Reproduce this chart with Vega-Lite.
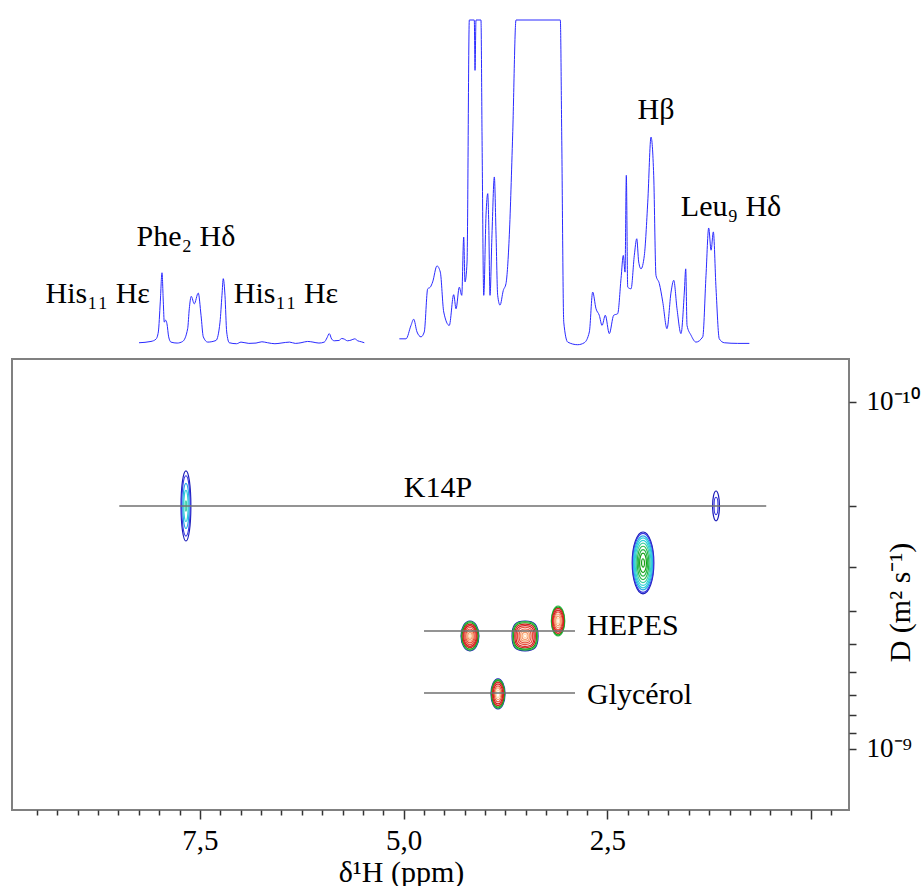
{
  "$schema": "https://vega.github.io/schema/vega-lite/v6.json",
  "padding": {"left": 11, "top": 18, "right": 0, "bottom": 0},
  "spacing": 11,
  "background": "white",
  "config": {"view": {"stroke": "#808080", "strokeWidth": 2}, "font": "Liberation Serif"},
  "datasets": {
    "spectrum": [
      {"seg":1,"ppm":8.248,"v":1.3},{"seg":1,"ppm":8.101,"v":1.7},{"seg":1,"ppm":8.040,"v":2.4},{"seg":1,"ppm":8.011,"v":4.6},{"seg":1,"ppm":7.987,"v":13.8},{"seg":1,"ppm":7.966,"v":22.7},{"seg":1,"ppm":7.950,"v":13.8},{"seg":1,"ppm":7.938,"v":7.6},{"seg":1,"ppm":7.921,"v":8.2},{"seg":1,"ppm":7.905,"v":7.1},{"seg":1,"ppm":7.884,"v":3.1},{"seg":1,"ppm":7.856,"v":1.5},{"seg":1,"ppm":7.780,"v":1.2},{"seg":1,"ppm":7.712,"v":1.7},{"seg":1,"ppm":7.651,"v":5.6},{"seg":1,"ppm":7.631,"v":11.7},{"seg":1,"ppm":7.607,"v":15.5},{"seg":1,"ppm":7.570,"v":13.2},{"seg":1,"ppm":7.521,"v":16.5},{"seg":1,"ppm":7.487,"v":9.7},{"seg":1,"ppm":7.459,"v":3.1},{"seg":1,"ppm":7.405,"v":1.5},{"seg":1,"ppm":7.303,"v":2.0},{"seg":1,"ppm":7.254,"v":7.6},{"seg":1,"ppm":7.230,"v":15.8},{"seg":1,"ppm":7.214,"v":20.9},{"seg":1,"ppm":7.193,"v":15.8},{"seg":1,"ppm":7.172,"v":4.6},{"seg":1,"ppm":7.140,"v":1.3},{"seg":1,"ppm":7.05,"v":1.0},{"seg":1,"ppm":6.996,"v":1.5},{"seg":1,"ppm":6.90,"v":1.1},{"seg":1,"ppm":6.812,"v":1.2},{"seg":1,"ppm":6.74,"v":1.6},{"seg":1,"ppm":6.669,"v":1.3},{"seg":1,"ppm":6.58,"v":1.0},{"seg":1,"ppm":6.505,"v":1.2},{"seg":1,"ppm":6.40,"v":1.5},{"seg":1,"ppm":6.33,"v":1.1},{"seg":1,"ppm":6.260,"v":1.3},{"seg":1,"ppm":6.18,"v":1.7},{"seg":1,"ppm":6.113,"v":1.5},{"seg":1,"ppm":6.04,"v":1.2},{"seg":1,"ppm":5.974,"v":1.5},{"seg":1,"ppm":5.941,"v":2.8},{"seg":1,"ppm":5.913,"v":4.1},{"seg":1,"ppm":5.883,"v":2.4},{"seg":1,"ppm":5.851,"v":1.9},{"seg":1,"ppm":5.794,"v":2.0},{"seg":1,"ppm":5.76,"v":2.6},{"seg":1,"ppm":5.728,"v":2.4},{"seg":1,"ppm":5.69,"v":1.9},{"seg":1,"ppm":5.646,"v":2.1},{"seg":1,"ppm":5.60,"v":2.5},{"seg":1,"ppm":5.564,"v":1.9},{"seg":1,"ppm":5.52,"v":1.6},{"seg":1,"ppm":5.483,"v":1.3},
      {"seg":2,"ppm":5.053,"v":2.5},{"seg":2,"ppm":4.971,"v":2.5},{"seg":2,"ppm":4.910,"v":6.6},{"seg":2,"ppm":4.877,"v":8.5},{"seg":2,"ppm":4.836,"v":4.6},{"seg":2,"ppm":4.787,"v":3.1},{"seg":2,"ppm":4.747,"v":4.6},{"seg":2,"ppm":4.705,"v":17.8},{"seg":2,"ppm":4.673,"v":18.3},{"seg":2,"ppm":4.644,"v":19.9},{"seg":2,"ppm":4.591,"v":24.8},{"seg":2,"ppm":4.550,"v":22.9},{"seg":2,"ppm":4.508,"v":10.7},{"seg":2,"ppm":4.440,"v":6.6},{"seg":2,"ppm":4.386,"v":16.0},{"seg":2,"ppm":4.357,"v":11.7},{"seg":2,"ppm":4.317,"v":18.3},{"seg":2,"ppm":4.287,"v":15.8},{"seg":2,"ppm":4.263,"v":33.6},{"seg":2,"ppm":4.247,"v":19.9},{"seg":2,"ppm":4.222,"v":26.0},{"seg":2,"ppm":4.194,"v":100},{"seg":2,"ppm":4.133,"v":100},{"seg":2,"ppm":4.124,"v":84.6},{"seg":2,"ppm":4.112,"v":100},{"seg":2,"ppm":4.051,"v":100},{"seg":2,"ppm":4.038,"v":64.8},{"seg":2,"ppm":4.017,"v":15.8},{"seg":2,"ppm":3.989,"v":40.4},{"seg":2,"ppm":3.968,"v":46.9},{"seg":2,"ppm":3.956,"v":38.2},{"seg":2,"ppm":3.940,"v":15.8},{"seg":2,"ppm":3.916,"v":34.3},{"seg":2,"ppm":3.887,"v":52.0},{"seg":2,"ppm":3.866,"v":34.3},{"seg":2,"ppm":3.846,"v":15.8},{"seg":2,"ppm":3.817,"v":12.8},{"seg":2,"ppm":3.777,"v":17.3},{"seg":2,"ppm":3.744,"v":19.4},{"seg":2,"ppm":3.703,"v":34.3},{"seg":2,"ppm":3.662,"v":64.8},{"seg":2,"ppm":3.621,"v":100},{"seg":2,"ppm":3.077,"v":100},{"seg":2,"ppm":3.060,"v":64.8},{"seg":2,"ppm":3.035,"v":7.6},{"seg":2,"ppm":2.986,"v":1.5},{"seg":2,"ppm":2.864,"v":0.7},{"seg":2,"ppm":2.783,"v":1.3},{"seg":2,"ppm":2.721,"v":4.6},{"seg":2,"ppm":2.680,"v":16.8},{"seg":2,"ppm":2.639,"v":11.7},{"seg":2,"ppm":2.599,"v":9.7},{"seg":2,"ppm":2.565,"v":6.6},{"seg":2,"ppm":2.525,"v":9.7},{"seg":2,"ppm":2.476,"v":4.1},{"seg":2,"ppm":2.422,"v":9.7},{"seg":2,"ppm":2.373,"v":10.2},{"seg":2,"ppm":2.332,"v":20.9},{"seg":2,"ppm":2.304,"v":28.0},{"seg":2,"ppm":2.283,"v":22.9},{"seg":2,"ppm":2.267,"v":52.5},{"seg":2,"ppm":2.250,"v":18.3},{"seg":2,"ppm":2.209,"v":17.8},{"seg":2,"ppm":2.169,"v":28.0},{"seg":2,"ppm":2.139,"v":33.1},{"seg":2,"ppm":2.115,"v":26.0},{"seg":2,"ppm":2.087,"v":23.9},{"seg":2,"ppm":2.046,"v":28.0},{"seg":2,"ppm":2.004,"v":44.3},{"seg":2,"ppm":1.964,"v":64.2},{"seg":2,"ppm":1.931,"v":52.5},{"seg":2,"ppm":1.903,"v":21.9},{"seg":2,"ppm":1.862,"v":19.4},{"seg":2,"ppm":1.820,"v":13.8},{"seg":2,"ppm":1.768,"v":5.6},{"seg":2,"ppm":1.718,"v":16.8},{"seg":2,"ppm":1.685,"v":20.4},{"seg":2,"ppm":1.645,"v":11.7},{"seg":2,"ppm":1.596,"v":4.1},{"seg":2,"ppm":1.555,"v":16.8},{"seg":2,"ppm":1.538,"v":23.9},{"seg":2,"ppm":1.522,"v":6.6},{"seg":2,"ppm":1.473,"v":3.6},{"seg":2,"ppm":1.412,"v":1.5},{"seg":2,"ppm":1.329,"v":3.1},{"seg":2,"ppm":1.289,"v":21.9},{"seg":2,"ppm":1.256,"v":36.4},{"seg":2,"ppm":1.227,"v":29.6},{"seg":2,"ppm":1.199,"v":35.2},{"seg":2,"ppm":1.166,"v":17.8},{"seg":2,"ppm":1.126,"v":2.5},{"seg":2,"ppm":1.064,"v":1.3},{"seg":2,"ppm":0.900,"v":1.1},{"seg":2,"ppm":0.757,"v":1.1}
    ],
    "peakLabels": [
      {"label":"His₁₁ Hε","ppm":8.755,"v":16.2},
      {"label":"Phe₂ Hδ","ppm":7.672,"v":33.6},
      {"label":"His₁₁ Hε","ppm":6.444,"v":16.2},
      {"label":"Hβ","ppm":1.903,"v":72.5},
      {"label":"Leu₉ Hδ","ppm":0.982,"v":42.8}
    ],
    "contours": [
      {"peak":"k14a","ppm":7.672,"D":1.994e-10,"span":0.101,"level":1},
      {"peak":"k14a","ppm":7.672,"D":1.994e-10,"span":0.087,"level":2},
      {"peak":"k14a","ppm":7.672,"D":1.994e-10,"span":0.065,"level":3},
      {"peak":"k14a","ppm":7.672,"D":1.994e-10,"span":0.045,"level":4},
      {"peak":"k14a","ppm":7.672,"D":1.994e-10,"span":0.015,"level":5},
      {"peak":"k14b","ppm":1.166,"D":1.994e-10,"span":0.043,"level":1},
      {"peak":"k14b","ppm":1.166,"D":1.994e-10,"span":0.025,"level":2},
      {"peak":"big","ppm":2.062,"D":2.91e-10,"span":0.089,"level":1},
      {"peak":"big","ppm":2.062,"D":2.91e-10,"span":0.085,"level":2},
      {"peak":"big","ppm":2.062,"D":2.91e-10,"span":0.078,"level":3},
      {"peak":"big","ppm":2.062,"D":2.91e-10,"span":0.072,"level":4},
      {"peak":"big","ppm":2.062,"D":2.91e-10,"span":0.065,"level":4},
      {"peak":"big","ppm":2.062,"D":2.91e-10,"span":0.057,"level":5},
      {"peak":"big","ppm":2.062,"D":2.91e-10,"span":0.048,"level":6},
      {"peak":"big","ppm":2.062,"D":2.91e-10,"span":0.038,"level":6},
      {"peak":"big","ppm":2.062,"D":2.91e-10,"span":0.028,"level":7},
      {"peak":"big","ppm":2.062,"D":2.91e-10,"span":0.012,"level":7},
      {"peak":"h1","ppm":4.186,"D":4.725e-10,"span":0.043,"level":1},
      {"peak":"h1","ppm":4.186,"D":4.725e-10,"span":0.041,"level":6},
      {"peak":"h1","ppm":4.186,"D":4.725e-10,"span":0.038,"level":7},
      {"peak":"h1","ppm":4.186,"D":4.725e-10,"span":0.034,"level":8},
      {"peak":"h1","ppm":4.186,"D":4.725e-10,"span":0.030,"level":8},
      {"peak":"h1","ppm":4.186,"D":4.725e-10,"span":0.025,"level":9},
      {"peak":"h1","ppm":4.186,"D":4.725e-10,"span":0.020,"level":9},
      {"peak":"h1","ppm":4.186,"D":4.725e-10,"span":0.015,"level":10},
      {"peak":"h1","ppm":4.186,"D":4.725e-10,"span":0.010,"level":10},
      {"peak":"h1","ppm":4.186,"D":4.725e-10,"span":0.005,"level":11},
      {"peak":"h2","ppm":3.510,"D":4.725e-10,"span":0.043,"level":1},
      {"peak":"h2","ppm":3.510,"D":4.725e-10,"span":0.041,"level":6},
      {"peak":"h2","ppm":3.510,"D":4.725e-10,"span":0.038,"level":7},
      {"peak":"h2","ppm":3.510,"D":4.725e-10,"span":0.034,"level":8},
      {"peak":"h2","ppm":3.510,"D":4.725e-10,"span":0.030,"level":8},
      {"peak":"h2","ppm":3.510,"D":4.725e-10,"span":0.025,"level":9},
      {"peak":"h2","ppm":3.510,"D":4.725e-10,"span":0.020,"level":9},
      {"peak":"h2","ppm":3.510,"D":4.725e-10,"span":0.015,"level":10},
      {"peak":"h2","ppm":3.510,"D":4.725e-10,"span":0.010,"level":10},
      {"peak":"h2","ppm":3.510,"D":4.725e-10,"span":0.005,"level":11},
      {"peak":"h3","ppm":3.105,"D":4.277e-10,"span":0.043,"level":6},
      {"peak":"h3","ppm":3.105,"D":4.277e-10,"span":0.040,"level":7},
      {"peak":"h3","ppm":3.105,"D":4.277e-10,"span":0.036,"level":8},
      {"peak":"h3","ppm":3.105,"D":4.277e-10,"span":0.031,"level":8},
      {"peak":"h3","ppm":3.105,"D":4.277e-10,"span":0.026,"level":9},
      {"peak":"h3","ppm":3.105,"D":4.277e-10,"span":0.020,"level":10},
      {"peak":"h3","ppm":3.105,"D":4.277e-10,"span":0.014,"level":10},
      {"peak":"h3","ppm":3.105,"D":4.277e-10,"span":0.008,"level":11},
      {"peak":"gly","ppm":3.842,"D":6.94e-10,"span":0.043,"level":1},
      {"peak":"gly","ppm":3.842,"D":6.94e-10,"span":0.041,"level":6},
      {"peak":"gly","ppm":3.842,"D":6.94e-10,"span":0.038,"level":7},
      {"peak":"gly","ppm":3.842,"D":6.94e-10,"span":0.034,"level":8},
      {"peak":"gly","ppm":3.842,"D":6.94e-10,"span":0.029,"level":8},
      {"peak":"gly","ppm":3.842,"D":6.94e-10,"span":0.023,"level":9},
      {"peak":"gly","ppm":3.842,"D":6.94e-10,"span":0.017,"level":10},
      {"peak":"gly","ppm":3.842,"D":6.94e-10,"span":0.011,"level":11}
    ],
    "lines": [
      {"name":"K14P","ppm":8.49,"ppm2":0.55,"D":1.994e-10},
      {"name":"HEPES","ppm":4.75,"ppm2":2.897,"D":4.57e-10},
      {"name":"Glycérol","ppm":4.75,"ppm2":2.897,"D":6.90e-10}
    ],
    "labels": [
      {"label":"K14P","ppm":4.578,"D":1.77e-10,"pos":"center"},
      {"label":"HEPES","ppm":2.749,"D":4.42e-10,"pos":"left"},
      {"label":"Glycérol","ppm":2.749,"D":6.99e-10,"pos":"left"}
    ]
  },
  "vconcat": [
    {
      "width": 837,
      "height": 327,
      "view": {"stroke": null},
      "encoding": {
        "x": {"field": "ppm", "type": "quantitative", "scale": {"domain": [-0.466, 9.807], "reverse": true, "nice": false, "zero": false}, "axis": null},
        "y": {"field": "v", "type": "quantitative", "scale": {"domain": [0, 100], "nice": false, "zero": false}, "axis": null}
      },
      "layer": [
        {
          "data": {"name": "spectrum"},
          "mark": {"type": "line", "color": "#2a2aff", "strokeWidth": 1, "interpolate": "monotone"},
          "encoding": {"detail": {"field": "seg", "type": "nominal"}}
        },
        {
          "data": {"name": "peakLabels"},
          "mark": {"type": "text", "font": "Liberation Serif", "fontSize": 30, "color": "#000000", "align": "center", "baseline": "middle"},
          "encoding": {"text": {"field": "label", "type": "nominal"}}
        }
      ]
    },
    {
      "width": 837,
      "height": 451,
      "encoding": {
        "x": {
          "field": "ppm", "type": "quantitative",
          "scale": {"domain": [-0.466, 9.807], "reverse": true, "nice": false, "zero": false},
          "axis": {
            "title": "δ¹H (ppm)", "orient": "bottom", "domain": false, "grid": false,
            "values": [9.5,9.25,9,8.75,8.5,8.25,8,7.75,7.5,7.25,7,6.75,6.5,6.25,6,5.75,5.5,5.25,5,4.75,4.5,4.25,4,3.75,3.5,3.25,3,2.75,2.5,2.25,2,1.75,1.5,1.25,1,0.75,0.5,0.25,0,-0.25],
            "labelExpr": "datum.value == 7.5 ? '7,5' : datum.value == 5 ? '5,0' : datum.value == 2.5 ? '2,5' : ''",
            "tickSize": {"condition": {"test": "datum.value % 2.5 == 0", "value": 9}, "value": 5},
            "tickColor": "#333333", "tickWidth": 1.5,
            "labelFont": "Liberation Serif", "labelFontSize": 29, "labelColor": "#000000", "labelPadding": 7,
            "labelFlush": false, "labelOverlap": false, "labelAngle": 0,
            "titleFont": "Liberation Serif", "titleFontSize": 30, "titleFontWeight": "normal", "titleColor": "#000000",
            "titleX": 389, "titleY": 71, "titleAlign": "center", "titleBaseline": "alphabetic"
          }
        },
        "y": {
          "field": "D", "type": "quantitative",
          "scale": {"type": "log", "domain": [7.52e-11, 1.5e-9], "reverse": true, "nice": false},
          "axis": {
            "title": "D (m² s⁻¹)", "orient": "right", "domain": false, "grid": false,
            "values": [1e-10,2e-10,3e-10,4e-10,5e-10,6e-10,7e-10,8e-10,9e-10,1e-9],
            "labelExpr": "datum.value == 1e-10 ? '10⁻¹⁰' : datum.value == 1e-9 ? '10⁻⁹' : ''",
            "tickSize": 7, "tickColor": "#333333", "tickWidth": 1.5,
            "labelFont": "Liberation Serif", "labelFontSize": 27, "labelColor": "#000000", "labelPadding": 10,
            "labelFlush": false, "labelOverlap": false,
            "titleFont": "Liberation Serif", "titleFontSize": 30, "titleFontWeight": "normal", "titleColor": "#000000",
            "titleAngle": 270, "titleX": 51, "titleY": 243, "titleAlign": "center", "titleBaseline": "middle"
          }
        }
      },
      "layer": [
        {
          "data": {"name": "contours"},
          "mark": {"type": "point", "filled": false, "opacity": 1, "strokeWidth": 1.2},
          "encoding": {
            "shape": {
              "field": "peak", "type": "nominal", "legend": null,
              "scale": {
                "domain": ["k14a","k14b","big","h1","h2","h3","gly"],
                "range": [
                  "M0,-1C0.0773,-1 0.14,-0.5523 0.14,0C0.14,0.5523 0.0773,1 0,1C-0.0773,1 -0.14,0.5523 -0.14,0C-0.14,-0.5523 -0.0773,-1 0,-1Z",
                  "M0,-1C0.127,-1 0.23,-0.5523 0.23,0C0.23,0.5523 0.127,1 0,1C-0.127,1 -0.23,0.5523 -0.23,0C-0.23,-0.5523 -0.127,-1 0,-1Z",
                  "M0,-1C0.1933,-1 0.35,-0.5523 0.35,0C0.35,0.5523 0.1933,1 0,1C-0.1933,1 -0.35,0.5523 -0.35,0C-0.35,-0.5523 -0.1933,-1 0,-1Z",
                  "M0,-1C0.3314,-1 0.6,-0.5523 0.6,0C0.6,0.5523 0.3314,1 0,1C-0.3314,1 -0.6,0.5523 -0.6,0C-0.6,-0.5523 -0.3314,-1 0,-1Z",
                  "M0,-1C0.6525,-1 0.87,-0.75 0.87,0C0.87,0.75 0.6525,1 0,1C-0.6525,1 -0.87,0.75 -0.87,0C-0.87,-0.75 -0.6525,-1 0,-1Z",
                  "M0,-1C0.2485,-1 0.45,-0.5523 0.45,0C0.45,0.5523 0.2485,1 0,1C-0.2485,1 -0.45,0.5523 -0.45,0C-0.45,-0.5523 -0.2485,-1 0,-1Z",
                  "M0,-1C0.2596,-1 0.47,-0.5523 0.47,0C0.47,0.5523 0.2596,1 0,1C-0.2596,1 -0.47,0.5523 -0.47,0C-0.47,-0.5523 -0.2596,-1 0,-1Z"
                ]
              }
            },
            "size": {"field": "span", "type": "quantitative", "legend": null, "scale": {"type": "pow", "exponent": 2, "domain": [0, 0.1], "range": [0, 4816], "zero": true}},
            "color": {
              "field": "level", "type": "ordinal", "legend": null,
              "scale": {
                "domain": [1,2,3,4,5,6,7,8,9,10,11],
                "range": ["#1a1ab8","#3a3ae0","#2aa8e8","#30d0d8","#40d0a0","#2cb84a","#18a018","#d42020","#e8503a","#f59a6a","#ffd8b0"]
              }
            }
          }
        },
        {
          "data": {"name": "lines"},
          "mark": {"type": "rule", "color": "#707070", "strokeWidth": 1.5},
          "encoding": {"x2": {"field": "ppm2"}}
        },
        {
          "data": {"name": "labels"},
          "transform": [{"filter": "datum.pos == 'center'"}],
          "mark": {"type": "text", "font": "Liberation Serif", "fontSize": 30, "color": "#000000", "align": "center", "baseline": "middle"},
          "encoding": {"text": {"field": "label", "type": "nominal"}}
        },
        {
          "data": {"name": "labels"},
          "transform": [{"filter": "datum.pos == 'left'"}],
          "mark": {"type": "text", "font": "Liberation Serif", "fontSize": 30, "color": "#000000", "align": "left", "baseline": "middle"},
          "encoding": {"text": {"field": "label", "type": "nominal"}}
        }
      ]
    }
  ],
  "resolve": {"scale": {"x": "independent", "y": "independent"}}
}
